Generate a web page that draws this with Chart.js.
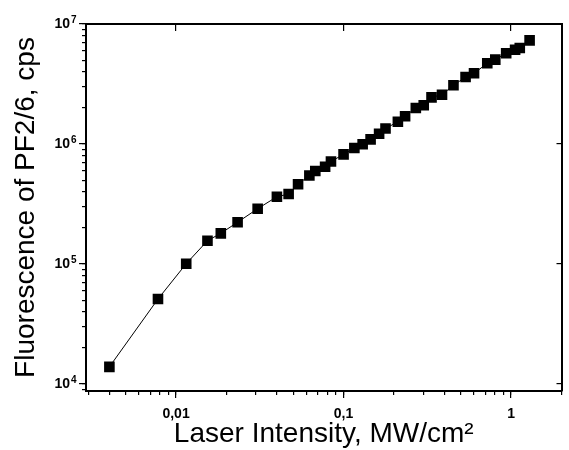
<!DOCTYPE html>
<html>
<head>
<meta charset="utf-8">
<script src="https://cdn.jsdelivr.net/npm/chart.js@4"></script>
<style>
  body { margin: 0; background: #fff; }
</style>
</head>
<body>
<canvas id="chart" width="569" height="450"></canvas>
<script>
// laser intensity, MW/cm2
const intensity = [0.0040, 0.0078, 0.0115, 0.0154, 0.0185, 0.0233, 0.0307, 0.0400, 0.0470, 0.0535,
  0.0625, 0.0678, 0.0776, 0.0841, 0.100, 0.116, 0.130, 0.145, 0.163, 0.178,
  0.211, 0.233, 0.270, 0.301, 0.335, 0.387, 0.453, 0.535, 0.601, 0.721,
  0.805, 0.935, 1.057, 1.127, 1.29];
// fluorescence of PF2/6, cps
const fluorescence = [13900, 51100, 100600, 156300, 180200, 222900, 288900, 363700, 383100, 462400,
  546500, 595700, 646900, 714900, 820400, 926300, 996000, 1094000, 1219000, 1346000,
  1534000, 1702000, 1995000, 2101000, 2449000, 2576000, 3084000, 3616000, 3882000, 4704000,
  5050000, 5700000, 6109000, 6310000, 7311000];

const xTickValues = [0.01, 0.1, 1];
const xTickLabels = ['0,01', '0,1', '1'];
const yTickValues = [1e4, 1e5, 1e6, 1e7];
const yTickLabels = ['10', '10', '10', '10'];
const yTickExponents = ['4', '5', '6', '7'];

const xMin = 0.0029, xMax = 2;
const yMin = 8750, yMax = 1e7;

const FONT = 'Arial, "Liberation Sans", sans-serif';

function minorTicks(min, max) {
  const out = [];
  for (let e = Math.floor(Math.log10(min)); e <= Math.ceil(Math.log10(max)); e++) {
    for (let m = 1; m <= 9; m++) {
      const v = m * Math.pow(10, e);
      if (v >= min && v <= max) out.push({value: v});
    }
  }
  return out;
}

// one axis per tick kind: log scale, only tick marks, no grid in the plot
function tickAxis(position, min, max, values, len, weight) {
  return {
    type: 'logarithmic',
    position: position,
    min: min, max: max,
    bounds: 'data',
    weight: weight,
    afterBuildTicks: s => { s.ticks = values(); },
    afterFit: s => {
      if (s.isHorizontal()) s.height = 0; else s.width = 0;
    },
    grid: {drawOnChartArea: false, drawTicks: true, tickLength: len, color: '#000', lineWidth: 1.2},
    border: {display: false},
    ticks: {display: false}
  };
}

// small raised exponents next to the "10" labels of the left axis
const exponentPlugin = {
  id: 'exponents',
  afterDraw(chart) {
    const s = chart.scales.y;
    const ctx = chart.ctx;
    ctx.save();
    ctx.fillStyle = '#000';
    ctx.font = 'bold 10px ' + FONT;
    ctx.textAlign = 'left';
    ctx.textBaseline = 'alphabetic';
    s.ticks.forEach((t, i) => {
      const y = s.getPixelForValue(t.value);
      ctx.fillText(yTickExponents[i], s.right - 15, y - 1);
    });
    ctx.restore();
  }
};

const points = intensity.map((x, i) => ({x: x, y: fluorescence[i]}));

new Chart(document.getElementById('chart'), {
  type: 'scatter',
  data: {
    datasets: [{
      data: points,
      showLine: true,
      borderColor: '#000',
      borderWidth: 1,
      backgroundColor: '#000',
      pointStyle: 'rect',
      pointRadius: 7.5,
      pointBorderWidth: 0,
      pointBackgroundColor: '#000',
      xAxisID: 'x',
      yAxisID: 'y'
    }]
  },
  plugins: [exponentPlugin],
  options: {
    responsive: false,
    animation: false,
    layout: {padding: {top: 24, right: 1, bottom: 0, left: 0}},
    plugins: {legend: {display: false}, tooltip: {enabled: false}},
    scales: {
      x: {
        type: 'logarithmic',
        position: 'bottom',
        min: xMin, max: xMax,
        bounds: 'data',
        weight: 1,
        afterBuildTicks: s => { s.ticks = xTickValues.map(v => ({value: v})); },
        afterFit: s => { s.height = 59; },
        grid: {drawOnChartArea: false, drawTicks: true, tickLength: 7, color: '#000', lineWidth: 1.2},
        border: {display: true, color: '#000', width: 2},
        ticks: {
          autoSkip: false, maxRotation: 0, padding: 8, color: '#000',
          font: {family: FONT, size: 14, weight: 'bold'},
          callback: (v, i) => xTickLabels[i]
        },
        title: {
          display: true,
          text: 'Laser Intensity, MW/cm\u00B2',
          color: '#000',
          font: {family: FONT, size: 28},
          padding: {top: 0, bottom: -1}
        }
      },
      xMinor: tickAxis('bottom', xMin, xMax, () => minorTicks(xMin, xMax), 4, 0),
      xTop: Object.assign(tickAxis('top', xMin, xMax, () => xTickValues.map(v => ({value: v})), -7, 0),
        {border: {display: true, color: '#000', width: 2}}),
      y: {
        type: 'logarithmic',
        position: 'left',
        min: yMin, max: yMax,
        bounds: 'data',
        weight: 1,
        afterBuildTicks: s => { s.ticks = yTickValues.map(v => ({value: v})); },
        afterFit: s => { s.width = 86; },
        grid: {drawOnChartArea: false, drawTicks: true, tickLength: 7, color: '#000', lineWidth: 1.2},
        border: {display: true, color: '#000', width: 2},
        ticks: {
          autoSkip: false, padding: 9, color: '#000',
          font: {family: FONT, size: 14, weight: 'bold'},
          callback: (v, i) => yTickLabels[i]
        },
        title: {
          display: true,
          text: 'Fluorescence of PF2/6, cps',
          color: '#000',
          font: {family: FONT, size: 28},
          padding: {top: 9, bottom: 0}
        }
      },
      yMinor: tickAxis('left', yMin, yMax, () => minorTicks(yMin, yMax), 4, 0),
      yRight: Object.assign(tickAxis('right', yMin, yMax, () => yTickValues.map(v => ({value: v})), -5, 0),
        {border: {display: true, color: '#000', width: 2}})
    }
  }
});
</script>
</body>
</html>
